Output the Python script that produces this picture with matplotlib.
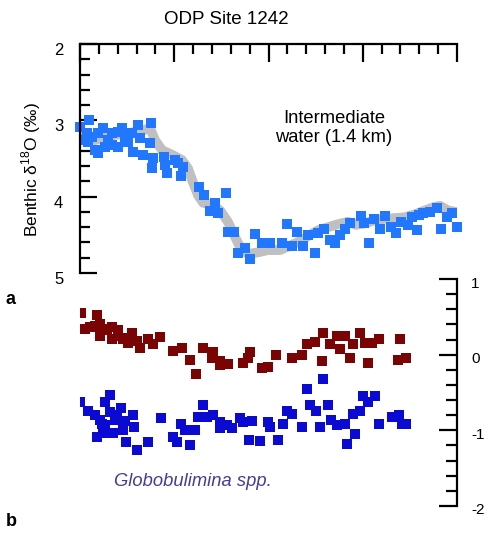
import numpy as np
import matplotlib
matplotlib.use('Agg')
import matplotlib.pyplot as plt
from matplotlib.ticker import MultipleLocator
import matplotlib.transforms as mtransforms

plt.rcParams['font.family'] = ['Liberation Sans', 'DejaVu Sans']
plt.rcParams['mathtext.fontset'] = 'custom'
plt.rcParams['mathtext.rm'] = 'Liberation Sans'

# top panel: benthic d18O at ODP 1242 (age axis is hidden, 0-20)
d18o_age = [0.0, 0.21, 0.37, 0.42, 0.48, 0.64, 0.80, 0.95, 0.95, 1.22, 1.33, 1.49, 1.70, 1.70,
            2.02, 2.02, 2.23, 2.39, 2.55, 2.76, 2.81, 3.08, 3.18, 3.34, 3.71, 3.77, 3.82, 3.87,
            4.46, 4.51, 4.62, 5.04, 5.20, 5.36, 5.46, 6.31, 6.58, 6.90, 7.16, 7.32, 7.75, 7.85,
            8.17, 8.38, 8.75, 9.02, 9.28, 9.66, 10.08, 10.72, 10.98, 11.25, 11.51, 11.83, 12.10,
            12.47, 12.63, 12.94, 13.26, 13.53, 13.79, 14.06, 14.32, 14.91, 15.07, 15.33, 15.60,
            15.92, 16.18, 16.50, 16.76, 17.03, 17.40, 17.61, 17.88, 17.98, 18.20, 18.57, 18.94,
            19.15, 19.47, 19.73, 20.0]
d18o_val = [3.09, 3.26, 3.17, 3.28, 3.00, 3.22, 3.39, 3.17, 3.43, 3.10, 3.35, 3.26, 3.17, 3.32,
            3.15, 3.35, 3.10, 3.22, 3.28, 3.17, 3.42, 3.06, 3.23, 3.45, 3.30, 3.04, 3.63, 3.49,
            3.48, 3.59, 3.69, 3.52, 3.56, 3.73, 3.61, 3.87, 3.98, 4.19, 4.08, 4.21, 3.95, 4.46,
            4.46, 4.74, 4.67, 4.82, 4.49, 4.61, 4.61, 4.61, 4.36, 4.65, 4.46, 4.65, 4.50,
            4.74, 4.48, 4.42, 4.57, 4.61, 4.50, 4.42, 4.35, 4.25, 4.35, 4.61, 4.29,
            4.42, 4.25, 4.40, 4.48, 4.33, 4.37, 4.27, 4.44, 4.24, 4.21, 4.20, 4.15,
            4.42, 4.27, 4.21, 4.40]

# smoothed record (gray band)
smooth_age = [0.00, 0.42, 0.80, 1.33, 1.86, 2.39, 2.92, 3.34, 3.71, 3.98, 4.35, 4.88, 5.41, 5.73,
              5.99, 6.26, 6.53, 7.00, 7.43, 7.85, 8.17, 8.49, 8.91, 9.44, 9.97, 10.61, 11.25,
              11.78, 12.20, 12.63, 13.16, 13.69, 14.22, 14.64, 15.12, 15.65, 16.18, 16.71, 17.24,
              17.77, 18.30, 18.73, 19.10, 19.52, 19.95]
smooth_val = [3.19, 3.23, 3.26, 3.22, 3.19, 3.18, 3.15, 3.13, 3.10, 3.26, 3.39, 3.45, 3.52, 3.63,
              3.81, 3.98, 4.08, 4.11, 4.18, 4.33, 4.50, 4.66, 4.75, 4.73, 4.70, 4.70, 4.63,
              4.57, 4.50, 4.44, 4.40, 4.36, 4.33, 4.37, 4.35, 4.31, 4.29, 4.28, 4.27,
              4.23, 4.18, 4.14, 4.12, 4.18, 4.20]

# bottom panel, red series
red_age = [0.05, 0.27, 0.53, 0.80, 0.90, 1.06, 1.06, 1.33, 1.43, 1.70, 1.70, 2.02, 2.02, 2.28,
           2.55, 2.55, 2.76, 3.02, 3.18, 3.61, 3.87, 4.24, 4.93, 5.41, 5.84, 6.15, 6.53, 7.06,
           7.00, 7.43, 7.43, 7.85, 8.65, 9.02, 8.91, 9.66, 9.97, 10.40, 11.25, 11.78, 12.04,
           12.47, 12.84, 12.89, 13.26, 13.63, 13.79, 14.06, 14.32, 14.48, 14.85, 15.12, 15.28,
           15.49, 15.86, 16.87, 16.98, 17.29]
red_val = [0.55, 0.34, 0.36, 0.38, 0.53, 0.41, 0.25, 0.32, 0.34, 0.36, 0.21, 0.32, 0.25, 0.21,
           0.22, 0.16, 0.29, 0.18, 0.09, 0.21, 0.14, 0.24, 0.05, 0.09, -0.07, -0.25, 0.09, 0.03,
           -0.04, -0.08, -0.14, -0.12, -0.11, 0.03, -0.04, -0.17, -0.16, -0.01, -0.04, 0.00, 0.14,
           0.17, -0.08, 0.28, 0.14, 0.25, 0.08, 0.25, -0.04, 0.14, 0.28, 0.16, -0.11,
           0.16, 0.21, -0.07, 0.21, -0.04]

# bottom panel, Globobulimina spp. (blue)
glob_age = [0.0, 0.42, 0.80, 0.90, 1.06, 1.17, 1.22, 1.33, 1.33, 1.59, 1.59, 1.75, 1.86, 1.96,
            2.18, 2.28, 2.39, 2.44, 2.81, 2.86, 3.02, 3.61, 4.30, 4.93, 5.15, 5.36, 5.57, 5.84,
            6.10, 6.26, 6.53, 6.74, 7.06, 7.43, 7.43, 7.80, 8.06, 8.49, 8.65, 8.97, 9.12, 9.55,
            9.97, 10.08, 10.50, 10.77, 10.98, 11.25, 11.78, 12.04, 12.20, 12.52, 12.73, 12.89,
            13.16, 13.32, 13.63, 14.06, 14.16, 14.48, 14.59, 14.85, 15.01, 15.28, 15.65, 15.86,
            16.55, 16.92, 17.08, 17.29]
glob_val = [-0.63, -0.74, -0.80, -1.09, -0.86, -0.91, -1.03, -0.63, -0.93, -0.53, -0.76, -1.03,
            -0.87, -0.80, -0.71, -1.00, -0.88, -1.16, -0.80, -0.95, -1.26, -1.16, -0.84, -1.09,
            -1.16, -0.91, -0.99, -1.20, -0.99, -0.82, -0.67, -0.83, -0.80, -0.89, -0.97, -0.93,
            -0.97, -0.84, -0.89, -1.13, -0.88, -1.14, -0.89, -0.96, -1.13, -0.91, -0.74, -0.78,
            -0.95, -0.46, -0.67, -0.74, -0.95, -0.32, -0.67, -0.87, -0.93, -0.91, -1.18, -0.78,
            -1.05, -0.74, -0.54, -0.63, -0.54, -0.91, -0.83, -0.80, -0.91, -0.92]

W, H = 488, 539
fig = plt.figure(figsize=(W / 100, H / 100), dpi=100)


def px_box(x0, y0, x1, y1):
    return [x0 / W, 1 - y1 / H, (x1 - x0) / W, (y1 - y0) / H]


def shift_labels(ax, dy):
    off = mtransforms.ScaledTranslation(0, -dy / 100, fig.dpi_scale_trans)
    for lab in ax.get_yticklabels():
        lab.set_transform(lab.get_transform() + off)


# ---- top panel
ax1 = fig.add_axes(px_box(80, 44, 457, 273))
ax1.plot(smooth_age, smooth_val, color='#c0c0c0', lw=7, solid_capstyle='round', zorder=1)
ax1.scatter(d18o_age, d18o_val, marker='s', s=58, color='#2277ff', lw=0, zorder=2, clip_on=False)
ax1.set_xlim(0, 20)
ax1.set_ylim(5, 2)
for s in ['right', 'bottom']:
    ax1.spines[s].set_visible(False)
for s in ['left', 'top']:
    ax1.spines[s].set_linewidth(1.6)
ax1.xaxis.set_ticks_position('top')
ax1.xaxis.set_major_locator(MultipleLocator(5))
ax1.xaxis.set_minor_locator(MultipleLocator(1))
ax1.yaxis.set_minor_locator(MultipleLocator(0.2))
ax1.tick_params(axis='x', which='both', direction='in', labeltop=False, labelbottom=False, width=1.6)
ax1.tick_params(axis='x', which='major', length=13)
ax1.tick_params(axis='x', which='minor', length=7)
ax1.tick_params(axis='y', which='both', direction='in', width=1.6, labelsize=12, pad=12)
ax1.tick_params(axis='y', which='major', length=12)
ax1.tick_params(axis='y', which='minor', length=7)
ax1.set_yticks([2, 3, 4, 5])
ax1.set_yticklabels(['2', '3', '4', '5'])
shift_labels(ax1, 5)
ax1.patch.set_alpha(0)

# ---- bottom panel
ax2 = fig.add_axes(px_box(80, 279, 457, 506))
ax2.scatter(red_age, red_val, marker='s', s=58, color='#7a0404', lw=0, zorder=2)
ax2.scatter(glob_age, glob_val, marker='s', s=58, color='#0a0ad2', lw=0, zorder=2)
ax2.set_xlim(0, 20)
ax2.set_ylim(-2, 1)
for s in ['left', 'top', 'bottom']:
    ax2.spines[s].set_visible(False)
ax2.spines['right'].set_linewidth(1.6)
ax2.set_xticks([])
ax2.yaxis.set_ticks_position('right')
ax2.yaxis.set_minor_locator(MultipleLocator(0.2))
ax2.tick_params(axis='y', which='both', direction='in', width=1.6, labelsize=11, pad=10,
                labelright=True, labelleft=False)
ax2.tick_params(axis='y', which='major', length=13)
ax2.tick_params(axis='y', which='minor', length=8)
ax2.set_yticks([-2, -1, 0, 1])
ax2.set_yticklabels(['-2', '-1', '0', '1'])
shift_labels(ax2, 3)
ax2.patch.set_alpha(0)

# ---- texts
fig.text(226 / W, 1 - 19 / H, 'ODP Site 1242', ha='center', va='center', fontsize=13.5)
fig.text(31 / W, 1 - 170 / H, r'Benthic δ$^{18}$O (‰)', rotation=90, ha='center', va='center',
         fontsize=12.5)
fig.text(334 / W, 1 - 128 / H, 'Intermediate\nwater (1.4 km)', ha='center', va='center',
         fontsize=13.2, linespacing=1.2)
fig.text(11 / W, 1 - 299 / H, 'a', ha='center', va='center', fontsize=13, fontweight='bold')
fig.text(11 / W, 1 - 522 / H, 'b', ha='center', va='center', fontsize=13, fontweight='bold')
fig.text(193 / W, 1 - 481 / H, 'Globobulimina spp.', ha='center', va='center', fontsize=13.2,
         style='italic', color='#463c96')

fig.savefig('out.png', dpi=100)
